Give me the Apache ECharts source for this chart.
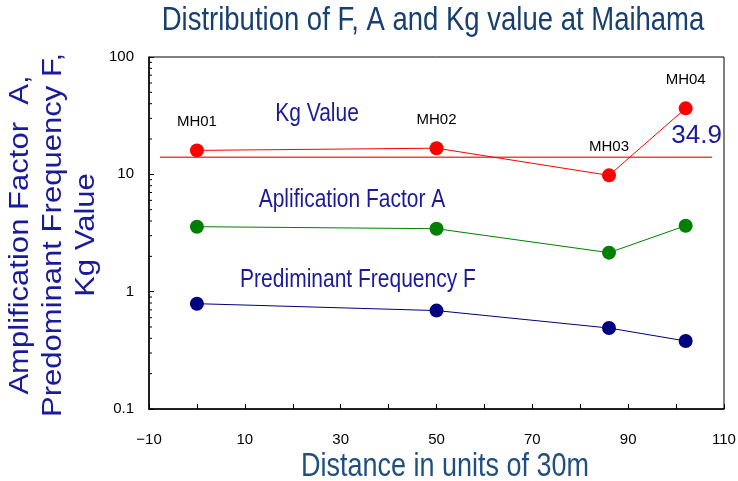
<!DOCTYPE html>
<html><head><meta charset="utf-8">
<script src="https://cdn.jsdelivr.net/npm/echarts@6/dist/echarts.min.js"></script>
<style>html,body{margin:0;padding:0;background:#fff}#c{width:738px;height:481px}</style>
</head><body><div id="c"></div>
<script>
const siteNames = ['MH01','MH02','MH03','MH04'];
const distances = [0, 50, 86, 102];
const kgValues = [16.0, 16.7, 9.8, 36.5];
const ampValues = [3.58, 3.44, 2.15, 3.65];
const freqValues = [0.79, 0.69, 0.49, 0.38];
const kgRefLineX = [-7.7, 107.5];
const kgRefLineY = 14;
const kgHighlight = '34.9';
const yTickLabels = [0.1, 1, 10, 100];
const minorTickValues = [0.2,0.3,0.4,0.5,0.6,0.7,0.8,0.9,2,3,4,5,6,7,8,9,20,30,40,50,60,70,80,90];

const SANS = '"Liberation Sans",Arial,sans-serif';
const STRETCH = 1.22;
const chart = echarts.init(document.getElementById('c'), null, {renderer:'canvas'});

function pts(vals){ return distances.map((d,i)=>[d, vals[i]]); }
function txt(text, x, y, size, color, extra){
  return Object.assign({type:'text', x:x, y:y, scaleX:1, scaleY:STRETCH, z:100,
    style:{text:text, font:size+'px '+SANS, fill:color, align:'center', verticalAlign:'middle'}}, extra||{});
}

chart.setOption({
  animation:false,
  backgroundColor:'#fff',
  grid:{left:149, right:14, top:57, bottom:72, show:true, borderColor:'#000', borderWidth:1,
    containLabel:false, outerBoundsMode:'none'},
  xAxis:{type:'value', min:-10, max:110, interval:10,
    axisLine:{onZero:false, lineStyle:{color:'#000', width:1.5}},
    axisTick:{inside:true, length:5, lineStyle:{color:'#000'}},
    axisLabel:{margin:23, fontFamily:SANS, fontSize:15, color:'#000',
      formatter:v=> ((v+10)%20===0 ? String(v).replace('-','\u2212') : '')},
    splitLine:{show:false}},
  yAxis:{type:'log', logBase:10, min:0.1, max:100,
    axisLine:{onZero:false, lineStyle:{color:'#000', width:1.5}},
    axisTick:{inside:true, length:5, lineStyle:{color:'#000'}},
    axisLabel:{margin:15, fontFamily:SANS, fontSize:15, color:'#000',
      formatter:v=>{ const m = yTickLabels.find(t=>Math.abs(t-v)/t<1e-6); return m===undefined?'':String(m); }},
    splitLine:{show:false}},
  series:[
    {type:'custom', data:minorTickValues.map(v=>[v]), silent:true, z:5, clip:false,
      renderItem:(params, api)=>{
        const p = api.coord([-10, api.value(0)]);
        return {type:'line', shape:{x1:p[0], y1:p[1], x2:p[0]+3, y2:p[1]}, style:{stroke:'#000', lineWidth:1}};
      }},
    {type:'line', data:[[kgRefLineX[0],kgRefLineY],[kgRefLineX[1],kgRefLineY]], symbol:'none', silent:true,
      lineStyle:{color:'#ff4040', width:1.5}, z:2},
    {type:'line', name:'Kg', data:pts(kgValues), symbol:'circle', symbolSize:14,
      itemStyle:{color:'#ff0000'}, lineStyle:{color:'#ff0000', width:1},
      label:{show:true, position:'top', distance:14, fontFamily:SANS, fontSize:15, color:'#000',
        formatter:p=>siteNames[p.dataIndex]},
      markPoint:{symbol:'circle', symbolSize:0, data:[{coord:[distances[3], kgValues[3]]}],
        label:{show:true, formatter:kgHighlight, offset:[11,27], fontFamily:SANS, fontSize:26, color:'#1a1a9c'}}},
    {type:'line', name:'A', data:pts(ampValues), symbol:'circle', symbolSize:14,
      itemStyle:{color:'#008000'}, lineStyle:{color:'#008000', width:1}},
    {type:'line', name:'F', data:pts(freqValues), symbol:'circle', symbolSize:14,
      itemStyle:{color:'#000080'}, lineStyle:{color:'#000080', width:1}}
  ],
  graphic:[
    txt('Distribution of F, A and Kg value at Maihama', 433, 21, 27.5, '#17406f'),
    txt('Distance in units of 30m', 445, 467, 27, '#1f4f7f'),
    {type:'text', x:54, y:235, rotation:Math.PI/2, scaleX:1.15, scaleY:1, z:100,
      style:{text:'Amplification Factor  A,\nPredominant Frequency F,\nKg Value', font:'27px '+SANS,
        fill:'#1a1a9c', align:'center', verticalAlign:'middle', lineHeight:33}},
    txt('Kg Value', 317, 114, 21, '#1a1a9c'),
    txt('Aplification Factor A', 352, 200, 21, '#1a1a9c'),
    txt('Prediminant Frequency F', 358, 280, 21, '#1a1a9c')
  ]
});
</script></body></html>
